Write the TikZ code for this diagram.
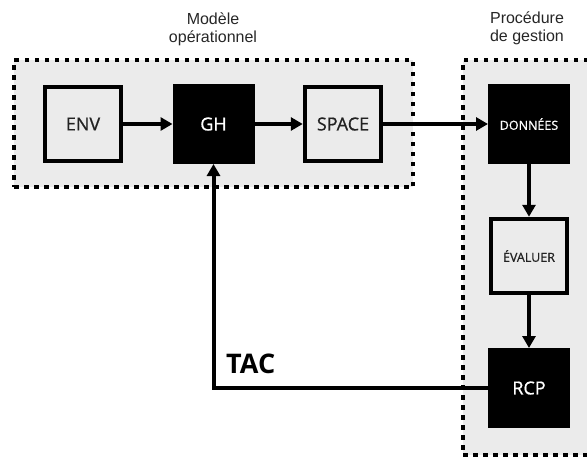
\documentclass[tikz,border=0pt]{standalone}
\usepackage{fontspec}
\setmainfont{Liberation Sans}
\newfontfamily\boxfont{Open Sans}[FakeBold=0.8]
\newfontfamily\tacfont{Open Sans}
\usetikzlibrary{arrows.meta}
\definecolor{bg}{HTML}{EBEBEB}
\definecolor{txt}{HTML}{222222}
\begin{document}
\begin{tikzpicture}[x=1pt,y=-1pt,
  container/.style={fill=bg, draw=black, line width=4.5pt, dash pattern=on 4.5pt off 5.5pt},
  lightbox/.style={draw=black, fill=bg, line width=4.5pt, minimum width=76pt, minimum height=74pt, inner sep=0pt, font=\boxfont\fontsize{18}{19}\selectfont, text=txt},
  darkbox/.style={draw=black, fill=black, line width=2pt, minimum width=80pt, minimum height=78pt, inner sep=0pt, font=\boxfont\fontsize{18}{19}\selectfont, text=white},
  conn/.style={line width=4pt, -{Triangle[length=12pt,width=13pt]}},
  title/.style={font=\fontsize{16}{18}\selectfont, align=center, text=black!85}
]
\useasboundingbox (0,0) rectangle (587,458);
\clip (0,0) rectangle (587,458);
\node[container, minimum width=399pt, minimum height=127pt, inner sep=0pt] (opbox) at (213.5,123.5) {};
\node[container, minimum width=200pt, minimum height=395pt, inner sep=0pt] (gbox) at (563,257.5) {};
\node[title] (t1) at (213,29) {Modèle\\opérationnel};
\node[title] (t2) at (527,28) {Procédure\\de gestion};
\node[lightbox] (env) at (83,124) {ENV};
\node[darkbox] (gh) at (213.5,124) {GH};
\node[lightbox] (space) at (343,124) {SPACE};
\node[darkbox, font=\boxfont\fontsize{12.5}{14}\selectfont] (don) at (529,124) {DONNÉES};
\node[lightbox, font=\boxfont\fontsize{12.5}{14}\selectfont] (eval) at (529,256) {ÉVALUER};
\node[darkbox] (rcp) at (529,388) {RCP};
\draw[conn] (env) -- (gh);
\draw[conn] (gh) -- (space);
\draw[conn] (space) -- (don);
\draw[conn] (don) -- (eval);
\draw[conn] (eval) -- (rcp);
\draw[conn] (rcp.west) -| (gh.south);
\node[font=\tacfont\bfseries\fontsize{27}{30}\selectfont, anchor=south west, inner sep=0pt] (tac) at (226,374) {TAC};
\end{tikzpicture}
\end{document}
